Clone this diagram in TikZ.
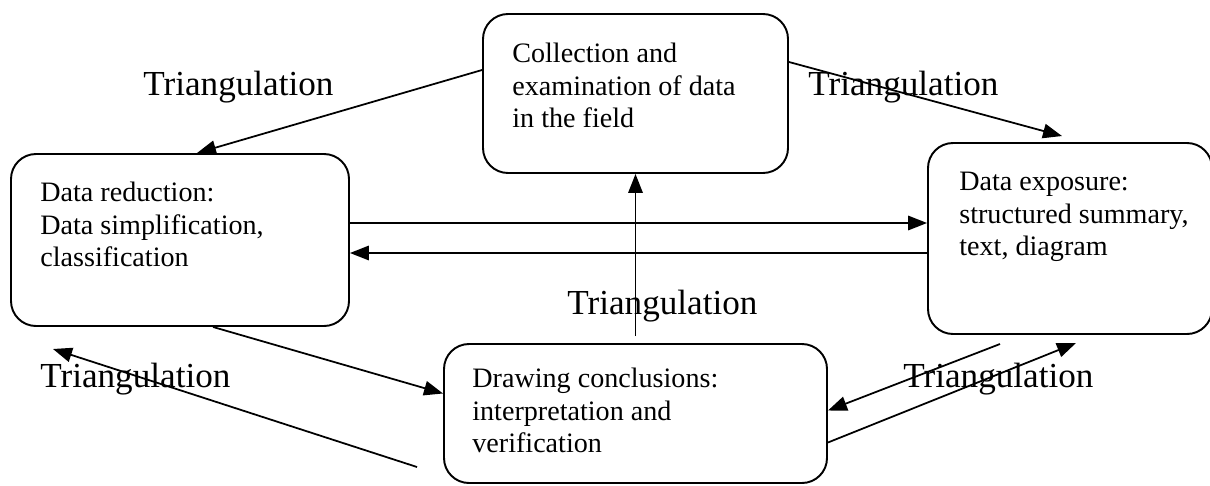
\documentclass[tikz,border=0pt]{standalone}
\usepackage{fontspec}
\setmainfont{Liberation Serif}
\usetikzlibrary{arrows.meta}

\begin{document}
\begin{tikzpicture}[box/.style={draw, line width=1.1pt, rounded corners=0.5cm}, txt/.style={anchor=north west, inner sep=0pt, align=left, font=\fontsize{16}{18.4}\selectfont}, tri/.style={anchor=base west, inner sep=0pt, font=\fontsize{20}{24}\selectfont}, arr/.style={line width=1pt, -{Triangle[length=3.8mm,width=2.9mm]}}]
\useasboundingbox (0,0) rectangle (24.2,-9.7);
\node[box, minimum width=6.10cm, minimum height=3.18cm] (col) at (12.71,-1.87) {};
\node[box, minimum width=6.76cm, minimum height=3.44cm] (red) at (3.60,-4.80) {};
\node[box, minimum width=5.68cm, minimum height=3.82cm] (exp) at (21.40,-4.77) {};
\node[box, minimum width=7.66cm, minimum height=2.78cm] (con) at (12.71,-8.27) {};
\node[txt] (coltxt) at (10.24,-0.86) {Collection and\\examination of data\\in the field};
\node[txt] (redtxt) at (0.80,-3.64) {Data reduction:\\Data simplification,\\classification};
\node[txt] (exptxt) at (19.18,-3.44) {Data exposure:\\structured summary,\\text, diagram};
\node[txt] (contxt) at (9.44,-7.36) {Drawing conclusions:\\interpretation and\\verification};
% triangulation labels
\node[tri] (tl) at (2.86,-1.90) {Triangulation};
\node[tri] (tr) at (16.16,-1.90) {Triangulation};
\node[tri] (tm) at (11.34,-6.28) {Triangulation};
\node[tri] (bl) at (0.80,-7.74) {Triangulation};
\node[tri] (br) at (18.06,-7.74) {Triangulation};
\coordinate (r1) at ([yshift=0.34cm]red.east); \coordinate (r2) at ([yshift=-0.26cm]red.east);
\coordinate (blfrom) at (8.34,-9.34); \coordinate (blto) at (1.06,-6.98);
\coordinate (brfrom) at (20.00,-6.88); \coordinate (brto) at (21.52,-6.86);
\draw[arr] ([yshift=0.47cm]col.west) -- ([xshift=0.34cm]red.north);
\draw[arr] ([yshift=0.63cm]col.east) -- ([xshift=-0.16cm,yshift=0.12cm]exp.north);
\draw[arr] (r1) -- (r1 -| exp.west);
\draw[arr] (r2 -| exp.west) -- (r2);
\draw[arr, shorten <=0.14cm] (con.north) -- (col.south);
\draw[arr] ([xshift=0.66cm]red.south) -- ([yshift=0.40cm]con.west);
\draw[arr] (blfrom) -- (blto);
\draw[arr] (brfrom) -- ([yshift=0.06cm]con.east);
\draw[arr] ([yshift=-0.58cm]con.east) -- (brto);
\end{tikzpicture}
\end{document}
